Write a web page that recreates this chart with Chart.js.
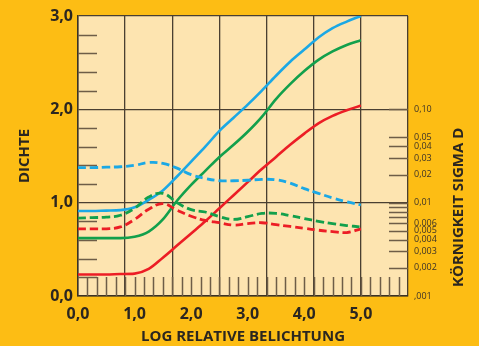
<!DOCTYPE html>
<html>
<head>
<meta charset="utf-8">
<script src="https://cdn.jsdelivr.net/npm/chart.js@4.4.1/dist/chart.umd.min.js"></script>
<style>
  html, body { margin: 0; padding: 0; background: #fdbd14; }
</style>
</head>
<body>
<canvas id="kurven" width="479" height="346"></canvas>
<script>
// log relative Belichtung (x) fuer alle Kurven
const belichtung = [0, 0.25, 0.5, 0.75, 1, 1.25, 1.5, 1.75, 2, 2.25, 2.5, 2.75, 3, 3.25, 3.5, 3.75, 4, 4.25, 4.5, 4.75, 5]

// Dichtekurven (durchgezogen)
const dichteBlau = [0.91, 0.91, 0.915, 0.92, 0.95, 1.03, 1.13, 1.28, 1.44, 1.6, 1.77, 1.91, 2.05, 2.2, 2.36, 2.51, 2.64, 2.77, 2.87, 2.94, 3.0]
const dichteGruen = [0.62, 0.62, 0.62, 0.62, 0.635, 0.69, 0.82, 1.02, 1.19, 1.34, 1.49, 1.62, 1.76, 1.92, 2.11, 2.27, 2.41, 2.53, 2.62, 2.69, 2.74]
const dichteRot = [0.23, 0.23, 0.23, 0.235, 0.24, 0.29, 0.41, 0.54, 0.67, 0.8, 0.94, 1.08, 1.22, 1.36, 1.49, 1.62, 1.74, 1.85, 1.93, 1.99, 2.04]

// Koernigkeitskurven (gestrichelt)
const kornBlau = [1.375, 1.375, 1.38, 1.385, 1.4, 1.43, 1.42, 1.37, 1.3, 1.26, 1.235, 1.235, 1.24, 1.25, 1.245, 1.21, 1.15, 1.1, 1.05, 1.01, 0.975]
const kornGruen = [0.835, 0.84, 0.845, 0.865, 0.94, 1.06, 1.1, 1.0, 0.925, 0.9, 0.85, 0.82, 0.85, 0.885, 0.885, 0.86, 0.83, 0.8, 0.775, 0.755, 0.74]
const kornRot = [0.72, 0.72, 0.72, 0.74, 0.82, 0.93, 0.99, 0.92, 0.855, 0.81, 0.785, 0.76, 0.775, 0.785, 0.765, 0.745, 0.725, 0.705, 0.69, 0.68, 0.72]

// Achsenbeschriftungen
const xLabels = [0, 1, 2, 3, 4, 5]
const dichteTicks = [0, 1, 2, 3]
const sigmaTicks = [0.001, 0.002, 0.003, 0.004, 0.005, 0.006, 0.007, 0.008, 0.009, 0.01, 0.02, 0.03, 0.04, 0.05, 0.1]
const sigmaLabels = [',001', '0,002', '0,003', '0,004', '0,005', '0,006', '', '', '', '0,01', '0,02', '0,03', '0,04', '0,05', '0,10']

const xMax = 35 / 6 // 7 Rasterfelder, 5,0 liegt auf der 6. Linie

const BLAU = '#1ba8e5'
const GRUEN = '#12a04c'
const ROT = '#ec1d25'
const TEXT = '#2b2620'
const STRICH = '#6e5d47'

Chart.defaults.font.family = "'Open Sans', sans-serif"
Chart.defaults.color = TEXT

function punkte(werte) {
  return belichtung.map((x, i) => ({ x: x, y: werte[i] }))
}

function komma(v) {
  return v.toFixed(1).replace('.', ',')
}

function linie(werte, farbe, gestrichelt) {
  return {
    data: punkte(werte),
    borderColor: farbe,
    borderWidth: gestrichelt ? 2.8 : 2.6,
    borderDash: gestrichelt ? [8, 4] : [],
    pointRadius: 0,
    tension: 0.4,
    cubicInterpolationMode: gestrichelt ? 'default' : 'monotone',
    fill: false
  }
}

// Hintergrund, kurze Skalenstriche und rechter Achsentitel
const rahmen = {
  id: 'rahmen',
  beforeDraw(chart) {
    const { ctx, chartArea: a } = chart
    ctx.save()
    ctx.fillStyle = '#fde4b0'
    ctx.fillRect(a.left, a.top, a.right - a.left, a.bottom - a.top)
    ctx.restore()
  },
  beforeDatasetsDraw(chart) {
    const { ctx, chartArea: a, scales } = chart
    const len = 19
    ctx.save()
    ctx.strokeStyle = STRICH
    ctx.lineWidth = 1.5
    ctx.beginPath()
    // links: alle 0,2 Dichte
    for (let i = 1; i < 15; i++) {
      if (i % 5 === 0) continue
      const y = Math.round(scales.y.getPixelForValue(i * 0.2)) + 0.5
      ctx.moveTo(a.left, y)
      ctx.lineTo(a.left + len, y)
    }
    // unten: fuenf Teilstriche je Rasterfeld
    for (let k = 1; k < 35; k++) {
      const x = Math.round(scales.x.getPixelForValue(k / 6)) + 0.5
      ctx.moveTo(x, a.bottom)
      ctx.lineTo(x, a.bottom - len)
    }
    // rechts: Koernigkeitsskala
    sigmaTicks.forEach(v => {
      if (v === 0.001) return
      const y = Math.round(scales.y2.getPixelForValue(v)) + 0.5
      ctx.moveTo(a.right - len, y)
      ctx.lineTo(a.right, y)
    })
    ctx.stroke()
    ctx.restore()
  },
  afterDraw(chart) {
    const { ctx, chartArea: a } = chart
    ctx.save()
    ctx.translate(chart.width - 20, a.bottom - 9)
    ctx.rotate(-Math.PI / 2)
    ctx.fillStyle = TEXT
    ctx.font = "bold 15px 'Open Sans', sans-serif"
    ctx.textAlign = 'left'
    ctx.textBaseline = 'middle'
    ctx.fillText('KÖRNIGKEIT SIGMA D', 0, 0)
    ctx.restore()
  }
}

const config = {
  type: 'line',
  data: {
    datasets: [
      linie(kornBlau, BLAU, true),
      linie(kornGruen, GRUEN, true),
      linie(kornRot, ROT, true),
      linie(dichteBlau, BLAU, false),
      linie(dichteGruen, GRUEN, false),
      linie(dichteRot, ROT, false)
    ]
  },
  options: {
    responsive: false,
    devicePixelRatio: 1,
    animation: false,
    layout: { padding: { top: 16, left: 0, right: 0, bottom: 0 } },
    plugins: {
      legend: { display: false },
      tooltip: { enabled: false }
    },
    scales: {
      x: {
        type: 'linear',
        min: 0,
        max: xMax,
        afterBuildTicks(scale) {
          scale.ticks = [0, 1, 2, 3, 4, 5, 6, 7].map(k => ({ value: k * 5 / 6 }))
        },
        afterFit(scale) { scale.height = 0 },
        ticks: { display: false },
        grid: { color: '#4a3f31', lineWidth: 1.3, drawTicks: false },
        border: { color: '#3a3226', width: 1.5 }
      },
      x2: {
        type: 'linear',
        position: 'bottom',
        min: 0,
        max: xMax,
        afterBuildTicks(scale) {
          scale.ticks = xLabels.map(v => ({ value: v }))
        },
        afterFit(scale) { scale.height = 50 },
        grid: { display: false, drawTicks: false },
        border: { display: false },
        ticks: {
          padding: 9,
          font: { size: 16, weight: 'bold' },
          callback: v => komma(v)
        },
        title: {
          display: true,
          text: 'LOG RELATIVE BELICHTUNG',
          font: { size: 15, weight: 'bold' },
          padding: { top: 0, bottom: 0 }
        }
      },
      y: {
        min: 0,
        max: 3,
        afterBuildTicks(scale) {
          scale.ticks = dichteTicks.map(v => ({ value: v }))
        },
        afterFit(scale) { scale.width = 78 },
        grid: { color: '#4a3f31', lineWidth: 1.3, drawTicks: false },
        border: { color: '#3a3226', width: 1.5 },
        ticks: {
          padding: 5,
          font: { size: 16, weight: 'bold' },
          callback: v => komma(v)
        },
        title: {
          display: true,
          text: 'DICHTE',
          font: { size: 15, weight: 'bold' },
          padding: { top: 16, bottom: 0 }
        }
      },
      y2: {
        type: 'logarithmic',
        position: 'right',
        min: 0.001,
        max: 1,
        afterBuildTicks(scale) {
          scale.ticks = sigmaTicks.map(v => ({ value: v }))
        },
        afterFit(scale) { scale.width = 71 },
        grid: { display: false, drawTicks: false },
        border: { display: false },
        ticks: {
          autoSkip: false,
          padding: 6,
          color: '#3b3228',
          font: { size: 9 },
          callback: (v, i) => sigmaLabels[i]
        }
      }
    }
  },
  plugins: [rahmen]
}

const kurvenChart = new Chart(
  document.querySelector('#kurven'),
  config
)
</script>
</body>
</html>
